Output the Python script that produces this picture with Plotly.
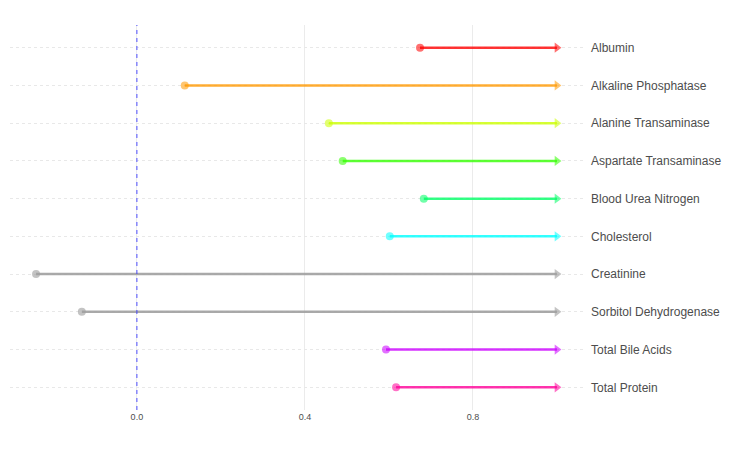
import plotly.graph_objects as go

categories = ["Albumin", "Alkaline Phosphatase", "Alanine Transaminase",
              "Aspartate Transaminase", "Blood Urea Nitrogen", "Cholesterol",
              "Creatinine", "Sorbitol Dehydrogenase", "Total Bile Acids", "Total Protein"]
start_values = [0.674, 0.114, 0.457, 0.490, 0.683, 0.602, -0.240, -0.131, 0.593, 0.617]
end_values = [1.0, 1.0, 1.0, 1.0, 1.0, 1.0, 1.0, 1.0, 1.0, 1.0]
colors = ["rgba(255,0,0,0.8)", "rgba(255,153,0,0.8)", "rgba(204,255,0,0.8)",
          "rgba(51,255,0,0.8)", "rgba(0,255,102,0.8)", "rgba(0,255,255,0.8)",
          "rgba(160,160,160,0.9)", "rgba(160,160,160,0.9)",
          "rgba(204,0,255,0.8)", "rgba(255,0,153,0.8)"]
x_ticks = [0.0, 0.4, 0.8]
x_tick_labels = ["0.0", "0.4", "0.8"]

fig = go.Figure()
for cat, s, e, c in zip(categories, start_values, end_values, colors):
    fig.add_trace(go.Scatter(
        x=[s, e], y=[cat, cat], mode="lines+markers",
        line=dict(color=c, width=2.5),
        marker=dict(symbol=["circle", "triangle-right"], size=[8, 9], color=c,
                    line=dict(width=0)),
        showlegend=False, hoverinfo="skip"))

fig.add_shape(type="line", xref="x", yref="paper", x0=0, x1=0, y0=0, y1=1,
              line=dict(color="rgba(60,60,255,0.75)", width=1.2, dash="4px,4px"), layer="above")

fig.update_layout(
    width=747, height=449,
    margin=dict(l=2, r=172, t=17, b=47),
    paper_bgcolor="white", plot_bgcolor="white",
    font=dict(family="Liberation Sans, Arial, sans-serif", color="#4d4d4d"),
)
fig.update_xaxes(range=[-0.302, 1.062], tickvals=x_ticks, ticktext=x_tick_labels,
                 showgrid=True, gridcolor="#ebebeb", gridwidth=1, zeroline=False,
                 showline=False, ticks="", tickfont=dict(size=9, color="#4d4d4d"))
fig.update_yaxes(categoryorder="array", categoryarray=categories,
                 range=[len(categories) - 0.4, -0.6], side="right",
                 showgrid=True, gridcolor="#e8e8e8", gridwidth=1, griddash="3px,3px",
                 zeroline=False, showline=False, ticks="", ticklabelstandoff=7,
                 tickfont=dict(size=12, color="#4d4d4d"))

fig.write_html("out.html")
